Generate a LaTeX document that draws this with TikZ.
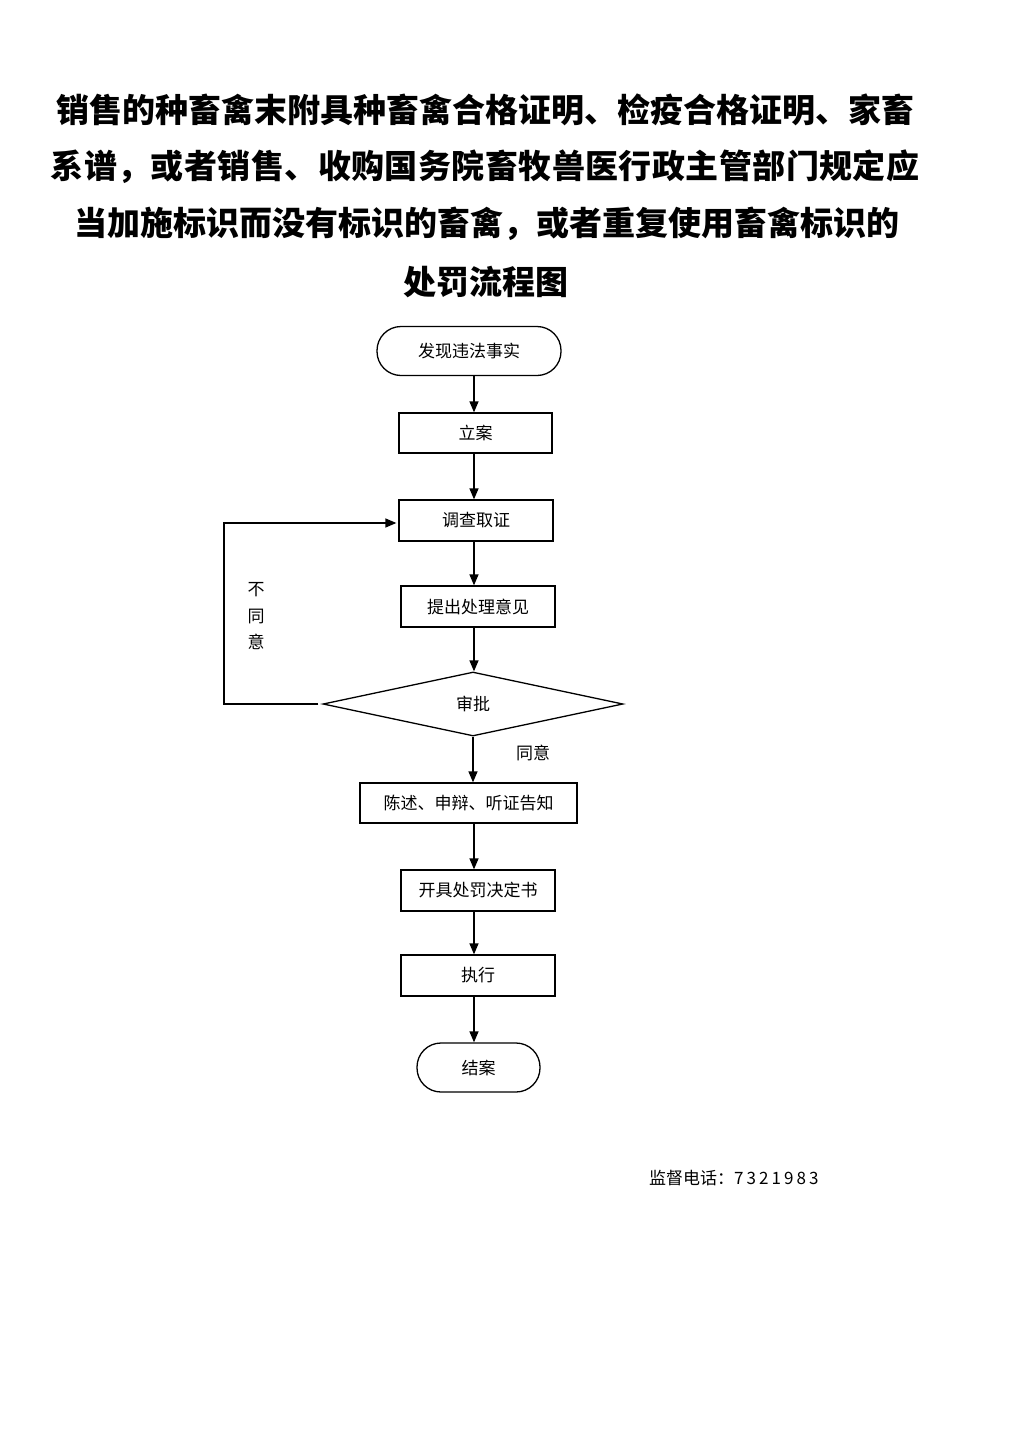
\documentclass[tikz,border=0pt]{standalone}
\usepackage{fontspec}
\newfontfamily\cjk{Noto Sans CJK SC}
\usetikzlibrary{arrows.meta,shapes.geometric}
\begin{document}
\begin{tikzpicture}[x=1pt,y=-1pt,
  txt/.style={font=\cjk\fontsize{17}{20}\selectfont, inner sep=0pt},
  ttl/.style={font=\cjk\bfseries\fontsize{33}{40}\selectfont, inner sep=0pt},
  box/.style={txt, draw, line width=1.3pt},
  term/.style={box, rounded corners=24pt},
  dia/.style={txt, draw, line width=1.3pt, diamond, shape aspect=4.69, minimum width=300pt, minimum height=64pt},
  arr/.style={line width=1.3pt, -{Triangle[length=11pt,width=9pt]}},
  ln/.style={line width=1.3pt}]
\fill[white] (0,0) rectangle (1024,1448);
\useasboundingbox (0,0) rectangle (1024,1448);
% title
\node[ttl] (t1) at (485,110) {销售的种畜禽末附具种畜禽合格证明、检疫合格证明、家畜};
\node[ttl] (t2) at (485,167) {\addfontfeatures{LetterSpace=1.3}系谱，或者销售、收购国务院畜牧兽医行政主管部门规定应};
\node[ttl] (t3) at (487,224) {当加施标识而没有标识的畜禽，或者重复使用畜禽标识的};
\node[ttl] (t4) at (486,282) {处罚流程图};
% nodes
\node[term, minimum width=184pt, minimum height=49pt] (start) at (469,351) {发现违法事实};
\node[box, minimum width=153pt, minimum height=40pt] (lian) at (475.5,433) {立案};
\node[box, minimum width=154pt, minimum height=41pt] (dc) at (476,520.5) {调查取证};
\node[box, minimum width=154pt, minimum height=41pt] (tc) at (478,606.5) {提出处理意见};
\node[dia] (sp) at (473,704) {审批};
\node[box, minimum width=217pt, minimum height=40pt] (cs) at (468.5,803) {陈述、申辩、听证告知};
\node[box, minimum width=154pt, minimum height=41pt] (kj) at (478,890.5) {开具处罚决定书};
\node[box, minimum width=154pt, minimum height=41pt] (zx) at (478,975.5) {执行};
\node[term, minimum width=123pt, minimum height=49pt] (ja) at (478.5,1067.5) {结案};
% labels
\node[txt, align=center, font=\cjk\fontsize{17}{26.5}\selectfont] (bty) at (256,616.5) {不\\同\\意};
\node[txt] (ty) at (533,753) {同意};
\node[txt, anchor=west] (tel) at (649,1178) {监督电话：\addfontfeatures{LetterSpace=18}7321983};
% connectors
\coordinate (ax) at (474,0);
\coordinate (fbx) at (224,0);
\coordinate (fby) at (0,523);
\draw[arr] (start.south -| ax) -- (lian.north -| ax);
\draw[arr] (lian.south -| ax) -- (dc.north -| ax);
\draw[arr] (dc.south -| ax) -- (tc.north -| ax);
\draw[arr] (tc.south -| ax) -- (sp.north -| ax);
\draw[arr] (sp.south) -- (sp.south |- cs.north);
\draw[arr] (cs.south -| ax) -- (kj.north -| ax);
\draw[arr] (kj.south -| ax) -- (zx.north -| ax);
\draw[arr] (zx.south -| ax) -- (ja.north -| ax);
\draw[arr, shorten >=2pt] ([xshift=-4pt]sp.west) -| (fbx |- fby) -- (dc.west |- fby);
\end{tikzpicture}
\end{document}
